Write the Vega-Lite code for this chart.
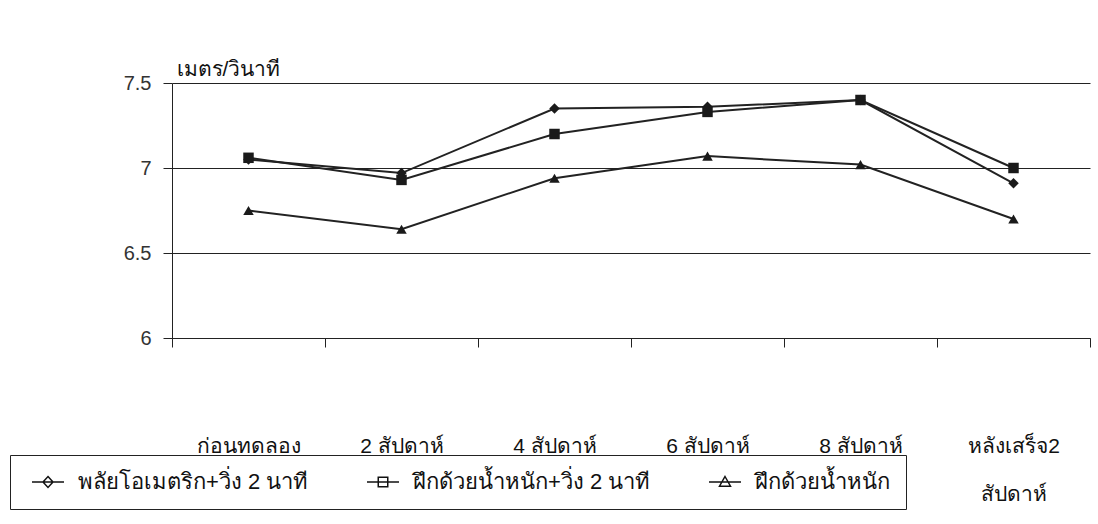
{
  "$schema": "https://vega.github.io/schema/vega-lite/v6.json",
  "width": 918,
  "height": 255,
  "autosize": {"type": "none"},
  "padding": {"left": 172, "top": 83, "right": 8, "bottom": 186},
  "background": "white",
  "config": {
    "view": {"stroke": null},
    "font": "Liberation Sans",
    "axis": {"domainColor": "#222", "tickColor": "#222", "gridColor": "#222", "labelColor": "#111", "titleColor": "#111"}
  },
  "data": {
    "values": [
      {"period": "ก่อนทดลอง", "series": "พลัยโอเมตริก+วิ่ง 2 นาที", "speed": 7.05},
      {"period": "2 สัปดาห์", "series": "พลัยโอเมตริก+วิ่ง 2 นาที", "speed": 6.97},
      {"period": "4 สัปดาห์", "series": "พลัยโอเมตริก+วิ่ง 2 นาที", "speed": 7.35},
      {"period": "6 สัปดาห์", "series": "พลัยโอเมตริก+วิ่ง 2 นาที", "speed": 7.36},
      {"period": "8 สัปดาห์", "series": "พลัยโอเมตริก+วิ่ง 2 นาที", "speed": 7.4},
      {"period": "หลังเสร็จ2 สัปดาห์", "series": "พลัยโอเมตริก+วิ่ง 2 นาที", "speed": 6.91},
      {"period": "ก่อนทดลอง", "series": "ฝึกด้วยน้ำหนัก+วิ่ง 2 นาที", "speed": 7.06},
      {"period": "2 สัปดาห์", "series": "ฝึกด้วยน้ำหนัก+วิ่ง 2 นาที", "speed": 6.93},
      {"period": "4 สัปดาห์", "series": "ฝึกด้วยน้ำหนัก+วิ่ง 2 นาที", "speed": 7.2},
      {"period": "6 สัปดาห์", "series": "ฝึกด้วยน้ำหนัก+วิ่ง 2 นาที", "speed": 7.33},
      {"period": "8 สัปดาห์", "series": "ฝึกด้วยน้ำหนัก+วิ่ง 2 นาที", "speed": 7.4},
      {"period": "หลังเสร็จ2 สัปดาห์", "series": "ฝึกด้วยน้ำหนัก+วิ่ง 2 นาที", "speed": 7.0},
      {"period": "ก่อนทดลอง", "series": "ฝึกด้วยน้ำหนัก", "speed": 6.75},
      {"period": "2 สัปดาห์", "series": "ฝึกด้วยน้ำหนัก", "speed": 6.64},
      {"period": "4 สัปดาห์", "series": "ฝึกด้วยน้ำหนัก", "speed": 6.94},
      {"period": "6 สัปดาห์", "series": "ฝึกด้วยน้ำหนัก", "speed": 7.07},
      {"period": "8 สัปดาห์", "series": "ฝึกด้วยน้ำหนัก", "speed": 7.02},
      {"period": "หลังเสร็จ2 สัปดาห์", "series": "ฝึกด้วยน้ำหนัก", "speed": 6.7}
    ]
  },
  "encoding": {
    "x": {
      "field": "period", "type": "nominal", "sort": null,
      "scale": {"paddingInner": 0, "paddingOuter": 0},
      "axis": {
        "title": null, "labelAngle": 0, "tickBand": "extent", "tickSize": 9,
        "labelPadding": 88, "labelFontSize": 21,
        "labelBaseline": "top", "labelLineHeight": 48,
        "labelExpr": "datum.value == 'หลังเสร็จ2 สัปดาห์' ? ['หลังเสร็จ2', 'สัปดาห์'] : datum.value",
        "grid": false
      }
    },
    "y": {
      "field": "speed", "type": "quantitative",
      "scale": {"domain": [6, 7.5], "zero": false, "nice": false},
      "axis": {
        "values": [6, 6.5, 7, 7.5], "format": "~g", "tickSize": 9, "labelPadding": 12, "labelFontSize": 20,
        "labelColor": "#333",
        "grid": true, "gridWidth": 1.2,
        "title": "เมตร/วินาที", "titleAngle": 0, "titleAlign": "left", "titleBaseline": "middle",
        "titleX": 4, "titleY": -14, "titleFontSize": 21, "titleFontWeight": "normal"
      }
    }
  },
  "resolve": {"scale": {"shape": "independent"}},
  "layer": [
    {
      "mark": {"type": "line", "color": "#222", "strokeWidth": 2},
      "encoding": {"detail": {"field": "series"}}
    },
    {
      "mark": {"type": "point", "filled": true, "opacity": 1, "color": "#1a1a1a"},
      "encoding": {
        "shape": {
          "field": "series", "type": "nominal",
          "scale": {
            "domain": ["พลัยโอเมตริก+วิ่ง 2 นาที", "ฝึกด้วยน้ำหนัก+วิ่ง 2 นาที", "ฝึกด้วยน้ำหนัก"],
            "range": ["diamond", "square", "triangle-up"]
          },
          "legend": null
        },
        "size": {"value": 110}
      }
    },
    {
      "mark": {"type": "point", "filled": false, "opacity": 0, "color": "#111", "strokeWidth": 1.5},
      "encoding": {
        "shape": {
          "field": "series", "type": "nominal",
          "scale": {
            "domain": ["พลัยโอเมตริก+วิ่ง 2 นาที", "ฝึกด้วยน้ำหนัก+วิ่ง 2 นาที", "ฝึกด้วยน้ำหนัก"],
            "range": [
              "M-1,0H5.4M2.2,-1.1L3.2,0L2.2,1.1L1.2,0Z",
              "M-1,0H5.4M1.25,-0.95H3.15V0.95H1.25Z",
              "M-1,0H5.4M2.2,-1.1L3.3,0.85L1.1,0.85Z"
            ]
          },
          "legend": {
            "title": null, "orient": "none", "legendX": -162, "legendY": 372,
            "direction": "horizontal", "columns": 3,
            "strokeColor": "#222", "padding": 16, "fillColor": "white",
            "labelFontSize": 22, "labelColor": "#111", "labelLimit": 400,
            "symbolOpacity": 1, "symbolFillColor": "#111", "symbolStrokeColor": "#111", "symbolStrokeWidth": 1.5,
            "columnPadding": 52, "labelOffset": 30,
            "encode": {
              "symbols": {
                "update": {
                  "fill": {"value": "#111"},
                  "stroke": {"value": "#111"},
                  "strokeWidth": {"value": 1.5},
                  "opacity": {"value": 1}
                }
              }
            }
          }
        },
        "size": {"value": 110}
      }
    }
  ]
}
